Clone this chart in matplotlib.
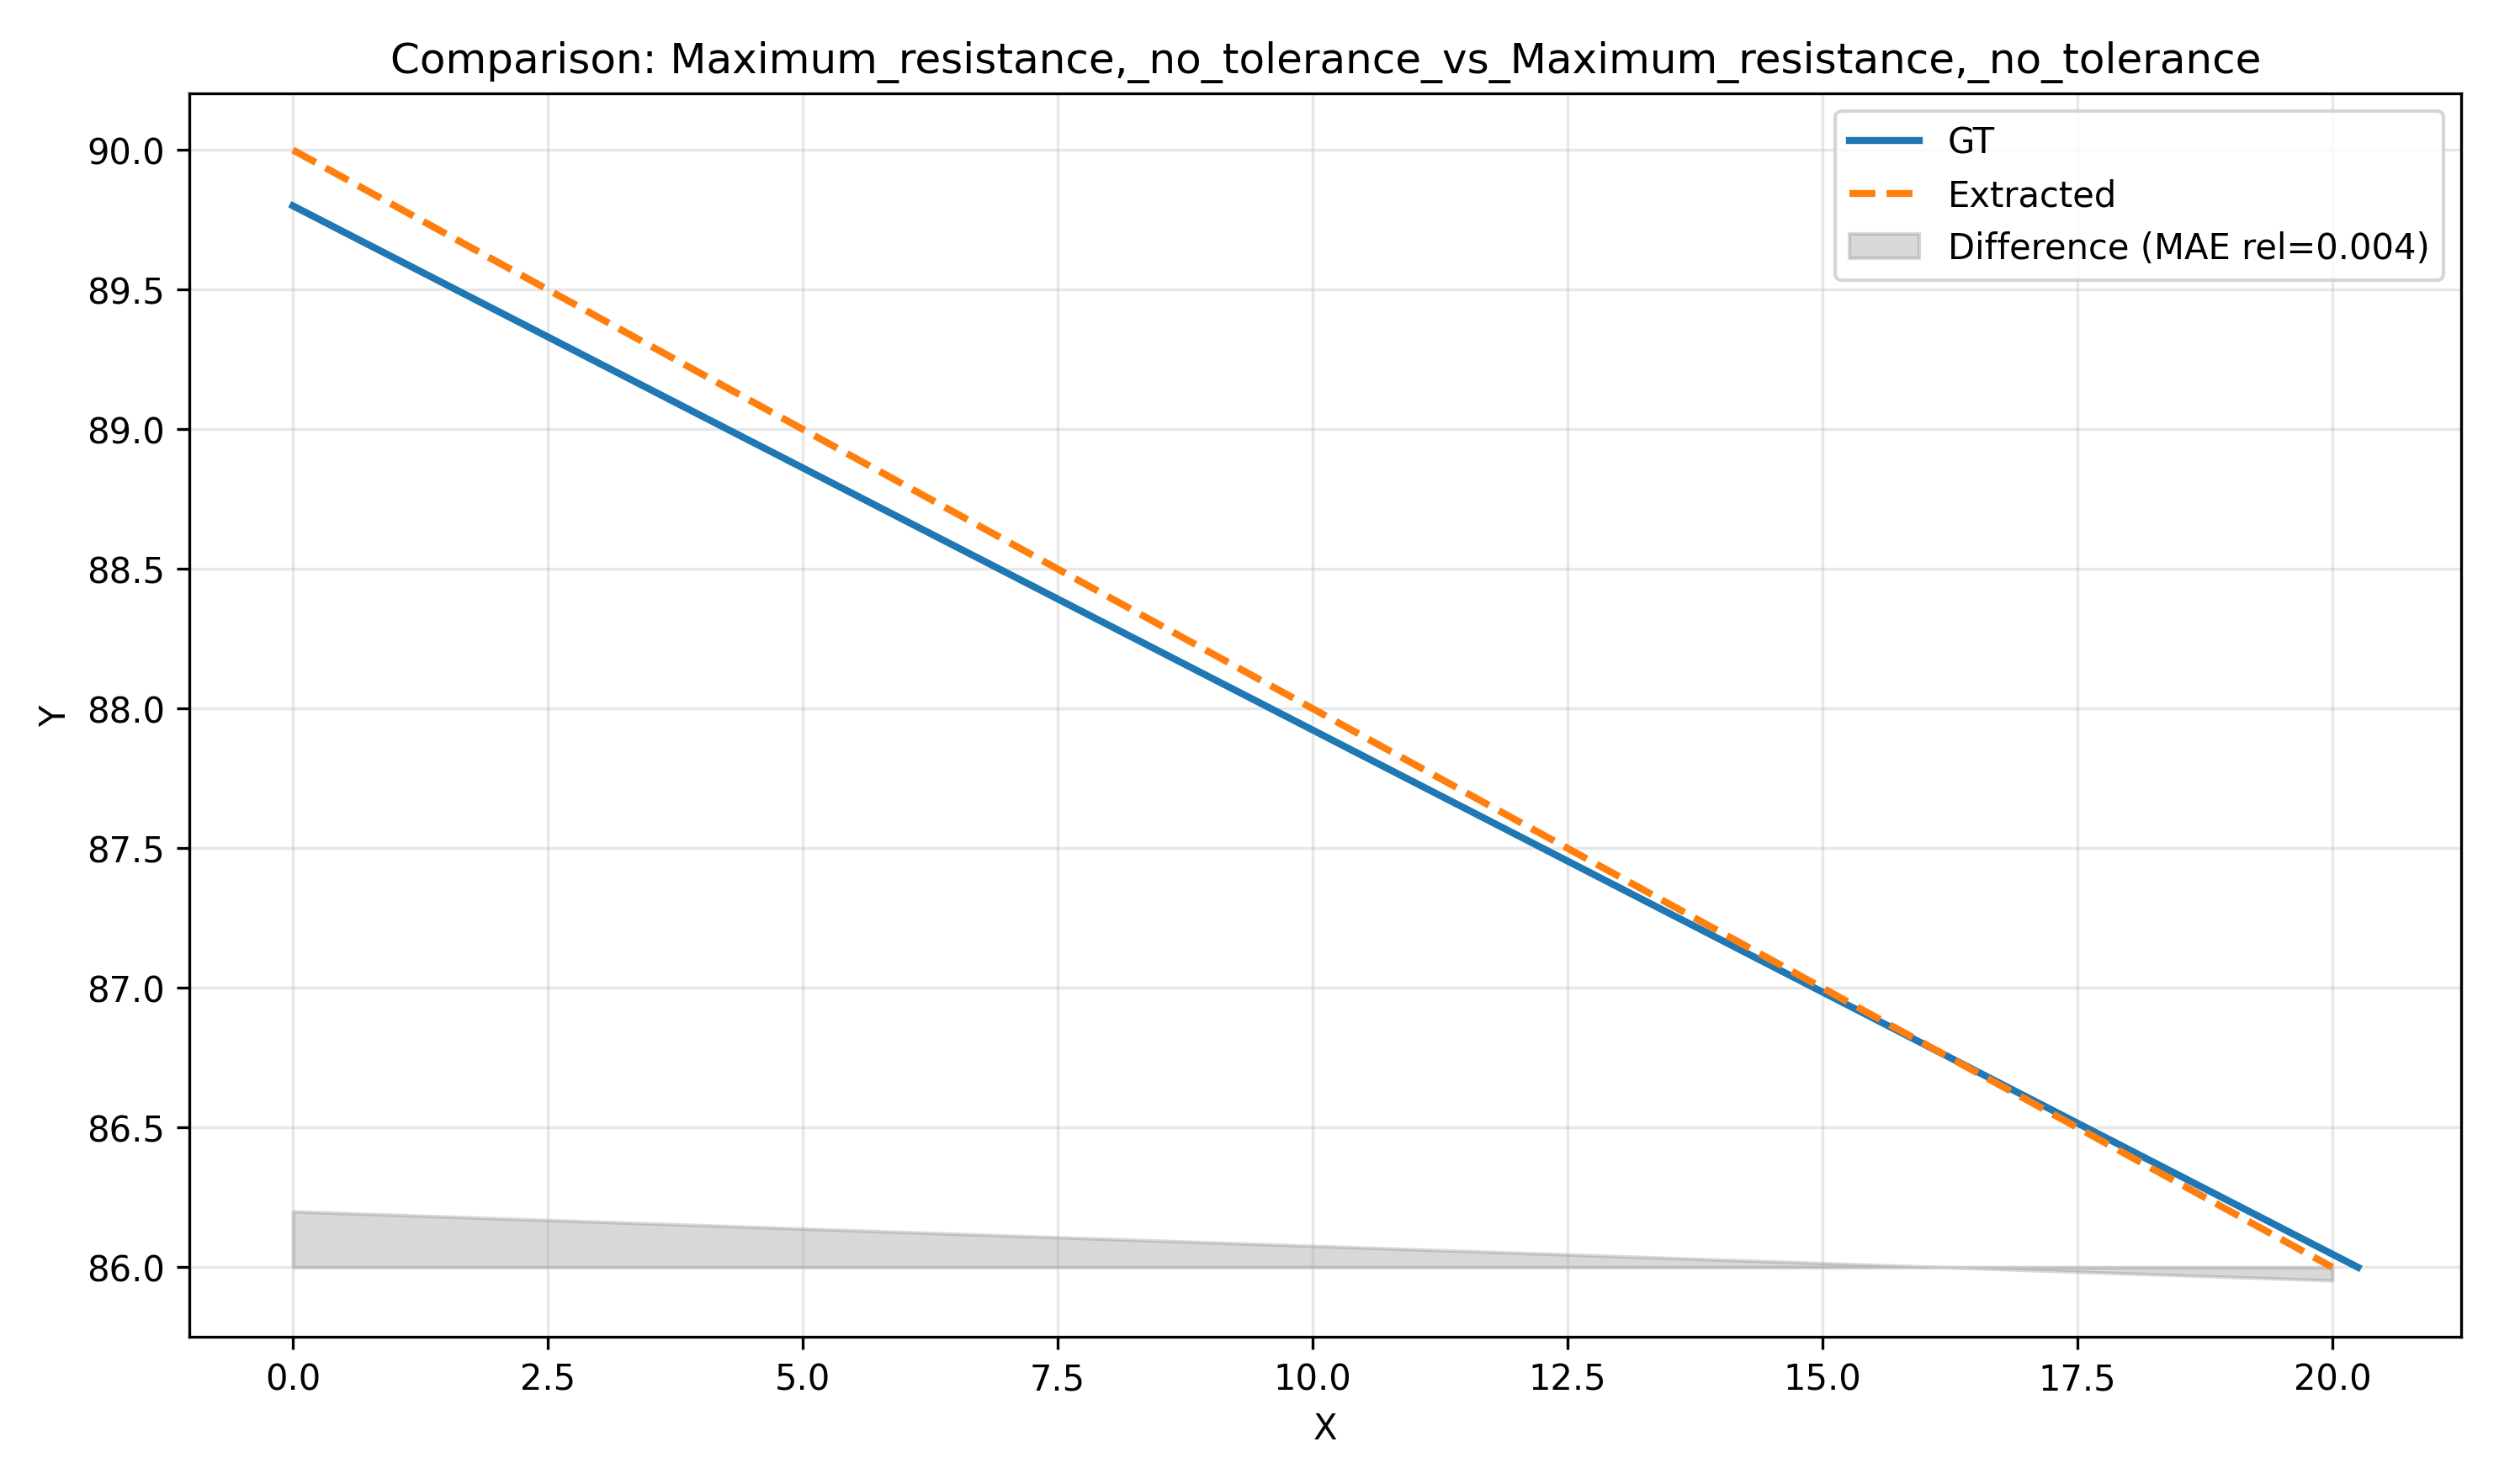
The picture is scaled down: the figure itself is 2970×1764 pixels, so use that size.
import numpy as np
import matplotlib
matplotlib.use("Agg")
import matplotlib.pyplot as plt

gt_x = [0.0, 20.25]
gt_y = [89.8, 86.0]
ex_x = [0.0, 20.0]
ex_y = [90.0, 86.0]

fig, ax = plt.subplots(figsize=(9.9, 5.883))
ax.plot(gt_x, gt_y, color="#1f77b4", lw=2, label="GT")
ax.plot(ex_x, ex_y, color="#ff7f0e", lw=2, ls="--", label="Extracted")
xs = np.array(ex_x)
diff = np.array(ex_y) - np.interp(xs, gt_x, gt_y)
base = min(ex_y)
ax.fill_between(xs, base, base + diff, color="gray", alpha=0.3,
                label="Difference (MAE rel=0.004)")
ax.set_xlabel("X")
ax.set_ylabel("Y")
ax.set_title("Comparison: Maximum_resistance,_no_tolerance_vs_Maximum_resistance,_no_tolerance")
ax.legend()
ax.grid(True, alpha=0.3)
plt.tight_layout()
plt.savefig("out.png", dpi=300)
